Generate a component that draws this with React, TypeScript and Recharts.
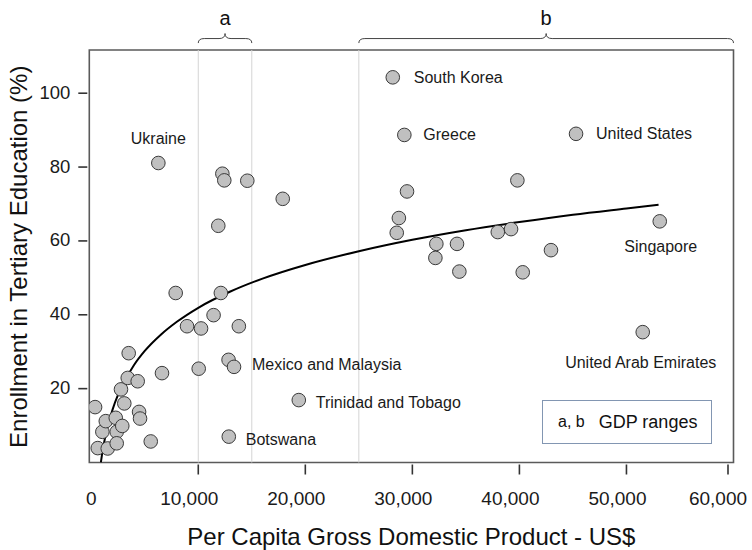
import {
  ComposedChart,
  Scatter,
  Line,
  XAxis,
  YAxis,
  ReferenceLine,
  ReferenceArea,
  Label,
} from "recharts";

const FONT = '"Liberation Sans", Arial, Helvetica, sans-serif';

// axis ticks
const xTicks = [0, 10000, 20000, 30000, 40000, 50000, 60000];
const yTicks = [20, 40, 60, 80, 100];

// GDP ranges shown with braces above the plot
const rangeNames = ["a", "b"];
const rangeStart = [10000, 25000];
const rangeEnd = [15000, 60000];
const rangeLines = [10000, 15000, 25000];

// named countries
const countries = [
  "Ukraine",
  "South Korea",
  "Greece",
  "United States",
  "Singapore",
  "United Arab Emirates",
  "Mexico and Malaysia",
  "Trinidad and Tobago",
  "Botswana",
];
const countryGdp = [6270, 28170, 29250, 45290, 53110, 51520, 13340, 19390, 12850];
const countryEnroll = [81.1, 104.3, 88.7, 89.0, 65.3, 35.3, 25.9, 16.9, 7.0];

// other countries (unlabelled)
const otherGdp = [
  360, 610, 1540, 1040, 1360, 2290, 2380, 2380, 2900, 2780, 3090, 3410, 3500,
  4340, 4470, 4560, 5560, 6610, 7890, 8950, 10260, 10040, 11430, 12110, 11870,
  12250, 12430, 14580, 13790, 12830, 17890, 29500, 28740, 28540, 32240, 32150,
  34170, 34390, 37980, 39220, 39810, 40310, 42950,
];
const otherEnroll = [
  15.0, 3.9, 3.8, 8.3, 11.2, 12.1, 8.3, 5.2, 9.9, 19.8, 16.0, 22.9, 29.6, 22.0,
  13.7, 11.9, 5.7, 24.2, 45.9, 36.9, 36.3, 25.4, 39.9, 45.9, 64.1, 78.2, 76.4,
  76.3, 36.9, 27.8, 71.4, 73.4, 66.2, 62.2, 59.2, 55.4, 59.2, 51.7, 62.4, 63.2,
  76.4, 51.5, 57.5,
];

// fitted trend curve
const fitGdp = [
  900, 1000, 1250, 1500, 2000, 2500, 3000, 4000, 5000, 6500, 8000, 10000,
  13000, 16000, 20000, 25000, 30000, 35000, 40000, 45000, 50000, 53000,
];
const fitEnroll = [
  0, 2.0, 6.1, 9.3, 14.4, 18.3, 21.4, 26.4, 30.2, 34.6, 38.1, 41.9, 46.3,
  49.8, 53.5, 57.2, 60.3, 62.9, 65.1, 67.1, 68.8, 69.8,
];

const points = [
  ...otherGdp.map((x, i) => ({ x, y: otherEnroll[i], name: "" })),
  ...countries.map((name, i) => ({ x: countryGdp[i], y: countryEnroll[i], name })),
];
const fit = fitGdp.map((x, i) => ({ x, y: fitEnroll[i] }));

const labelPlace: Record<string, { dx: number; dy: number; anchor: string }> = {
  Ukraine: { dx: 0, dy: -25, anchor: "middle" },
  "South Korea": { dx: 21, dy: 0, anchor: "start" },
  Greece: { dx: 19, dy: 0, anchor: "start" },
  "United States": { dx: 20, dy: 0, anchor: "start" },
  Singapore: { dx: 1, dy: 25, anchor: "middle" },
  "United Arab Emirates": { dx: -2, dy: 30, anchor: "middle" },
  "Mexico and Malaysia": { dx: 18, dy: -2, anchor: "start" },
  "Trinidad and Tobago": { dx: 17, dy: 2.5, anchor: "start" },
  Botswana: { dx: 17, dy: 2.5, anchor: "start" },
};

function Dot(props: any) {
  const { cx, cy, payload } = props;
  const place = payload && payload.name ? labelPlace[payload.name] : null;
  return (
    <g>
      <circle cx={cx} cy={cy} r={6.8} fill="#c0c0c0" stroke="#3a3a3a" strokeWidth={1} />
      {place && (
        <text
          x={cx + place.dx}
          y={cy + place.dy}
          textAnchor={place.anchor as any}
          dominantBaseline="central"
          fontSize={16}
          fill="#1a1a1a"
        >
          {payload.name}
        </text>
      )}
    </g>
  );
}

// x ticks sit a little below the frame; labels are drawn slightly left of the tick
function XTick(props: any) {
  const { x, y, payload } = props;
  const v = payload.value;
  const shift = v === 0 ? 0 : v === 60000 ? -14 : -9;
  const lx = v === 60000 ? x - 4 : x;
  return (
    <g>
      {v !== 0 && (
        <line x1={lx} x2={lx} y1={y + 2} y2={y + 12} stroke="#333" strokeWidth={1.6} />
      )}
      <text x={x + shift} y={y + 42.5} textAnchor="middle" fontSize={19} fill="#1a1a1a">
        {Number(v).toLocaleString("en-US")}
      </text>
    </g>
  );
}

function YTick(props: any) {
  const { x, y, payload } = props;
  return (
    <g>
      <line x1={x - 11} x2={x - 2} y1={y} y2={y} stroke="#333" strokeWidth={1.6} />
      <text
        x={x - 19}
        y={y - 1}
        textAnchor="end"
        dominantBaseline="central"
        fontSize={18.5}
        fill="#1a1a1a"
      >
        {payload.value}
      </text>
    </g>
  );
}

function Brace(props: any) {
  const { x, y, width, label } = props;
  const x0 = x;
  const x1 = x + width;
  const xm = x + width / 2;
  const d =
    `M${x0},${y + 4.5} Q${x0},${y} ${x0 + 6},${y} L${xm - 6},${y} ` +
    `Q${xm},${y} ${xm},${y - 5} Q${xm},${y} ${xm + 6},${y} ` +
    `L${x1 - 6},${y} Q${x1},${y} ${x1},${y + 4.5}`;
  return (
    <g>
      <path d={d} fill="none" stroke="#444" strokeWidth={1} />
      <text x={xm} y={y - 13.5} textAnchor="middle" fontSize={20} fill="#111">
        {label}
      </text>
    </g>
  );
}

export default function App() {
  return (
    <div
      style={{
        position: "absolute",
        left: 0,
        top: 0,
        width: 752,
        height: 550,
        fontFamily: FONT,
      }}
    >
      <ComposedChart
        width={752}
        height={550}
        margin={{ top: 50, right: 18.5, left: 29.3, bottom: 27.5 }}
      >
        <XAxis
          type="number"
          dataKey="x"
          domain={[-180, 60000]}
          allowDataOverflow
          ticks={xTicks}
          axisLine={false}
          tickLine={false}
          tickSize={0}
          tickMargin={0}
          height={60}
          tick={<XTick />}
        >
          <Label
            content={(p: any) => {
              const vb = p.viewBox;
              return (
                <text
                  x={vb.x + vb.width / 2}
                  y={vb.y + 82.5}
                  textAnchor="middle"
                  fontSize={24}
                  fill="#111"
                >
                  Per Capita Gross Domestic Product - US$
                </text>
              );
            }}
          />
        </XAxis>
        <YAxis
          type="number"
          dataKey="y"
          domain={[0, 111.7]}
          allowDataOverflow
          ticks={yTicks}
          axisLine={false}
          tickLine={false}
          tickSize={0}
          tickMargin={0}
          width={60}
          tick={<YTick />}
        >
          <Label
            content={(p: any) => {
              const vb = p.viewBox;
              const cx = vb.x - 2.6;
              const cy = vb.y + vb.height / 2 + 0.5;
              return (
                <text
                  x={cx}
                  y={cy}
                  transform={`rotate(-90 ${cx} ${cy})`}
                  textAnchor="middle"
                  fontSize={24}
                  fill="#111"
                >
                  Enrollment in Tertiary Education (%)
                </text>
              );
            }}
          />
        </YAxis>
        {rangeLines.map((v) => (
          <ReferenceLine key={v} x={v} stroke="#d4d4d4" strokeWidth={1} />
        ))}
        {rangeNames.map((n, i) => (
          <ReferenceArea
            key={n}
            x1={rangeStart[i]}
            x2={rangeEnd[i]}
            y1={111.7}
            y2={114.8}
            ifOverflow="visible"
            shape={(p: any) => <Brace {...p} label={n} />}
          />
        ))}
        <ReferenceArea
          x1={-180}
          x2={60000}
          y1={0}
          y2={111.7}
          fill="none"
          fillOpacity={0}
          stroke="#5a5a5a"
          strokeWidth={1.6}
          strokeOpacity={1}
          ifOverflow="visible"
        />
        <Line
          data={fit}
          dataKey="y"
          type="monotone"
          stroke="#000"
          strokeWidth={2}
          dot={false}
          activeDot={false}
          isAnimationActive={false}
        />
        <Scatter data={points} dataKey="y" shape={Dot} isAnimationActive={false} />
      </ComposedChart>
      <div
        style={{
          position: "absolute",
          left: 542,
          top: 400,
          width: 170,
          height: 44,
          border: "1px solid #8296b2",
          boxSizing: "border-box",
          display: "flex",
          alignItems: "center",
          background: "#fff",
          color: "#111",
        }}
      >
        <span style={{ fontSize: 16, marginLeft: 15 }}>a, b</span>
        <span style={{ fontSize: 18, marginLeft: 14 }}>GDP ranges</span>
      </div>
    </div>
  );
}
